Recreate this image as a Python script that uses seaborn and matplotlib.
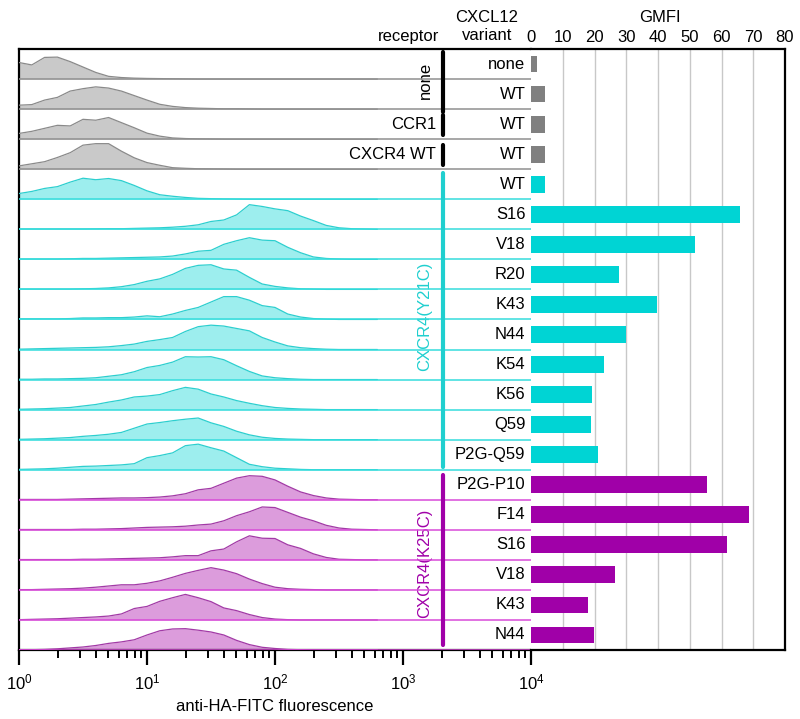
import numpy as np
import pandas as pd
import matplotlib
matplotlib.use("Agg")
import matplotlib.pyplot as plt
import matplotlib.transforms as mtransforms
from matplotlib.ticker import LogLocator, NullFormatter
import seaborn as sns

# ---- data ----
receptor_groups = ["none", "CCR1", "CXCR4 WT", "CXCR4(Y21C)", "CXCR4(K25C)"]
variants = ["none", "WT", "WT", "WT", "WT", "S16", "V18", "R20", "K43", "N44",
            "K54", "K56", "Q59", "P2G-Q59", "P2G-P10", "F14", "S16", "V18", "K43", "N44"]
row_group = ["ctrl"] * 4 + ["y21c"] * 10 + ["k25c"] * 6
gmfi = [1.9, 4.4, 4.3, 4.4, 4.3, 65.8, 51.7, 27.6, 39.8, 30.0,
        23.1, 19.3, 19.0, 21.2, 55.4, 68.6, 61.7, 26.5, 17.9, 19.9]

# histogram bins: log10(fluorescence)
log_bins = [0.0, 0.1, 0.2, 0.3, 0.4, 0.5, 0.6, 0.7, 0.8, 0.9, 1.0, 1.1, 1.2, 1.3, 1.4,
            1.5, 1.6, 1.7, 1.8, 1.9, 2.0, 2.1, 2.2, 2.3, 2.4, 2.5, 2.6, 2.7, 2.8]

# normalised counts per row (trailing bins are empty)
hist_ctrl = [
    [0.55, 0.47, 0.72, 0.73, 0.58, 0.40, 0.22, 0.09, 0.05, 0.03, 0.02, 0.015, 0.01, 0.005],
    [0.13, 0.15, 0.30, 0.39, 0.60, 0.68, 0.74, 0.70, 0.60, 0.45, 0.30, 0.16, 0.09, 0.05,
     0.03, 0.02, 0.01, 0.01, 0.005],
    [0.19, 0.26, 0.36, 0.46, 0.44, 0.66, 0.63, 0.72, 0.55, 0.38, 0.20, 0.10, 0.04, 0.02,
     0.01, 0.005],
    [0.11, 0.18, 0.25, 0.39, 0.55, 0.80, 0.85, 0.85, 0.60, 0.38, 0.22, 0.13, 0.05, 0.03,
     0.015, 0.01, 0.005],
]
hist_y21c = [
    [0.19, 0.26, 0.36, 0.42, 0.57, 0.70, 0.65, 0.69, 0.62, 0.46, 0.28, 0.15, 0.10, 0.06,
     0.03, 0.02, 0.01, 0.005],
    [0.01, 0.01, 0.01, 0.01, 0.01, 0.01, 0.015, 0.02, 0.02, 0.03, 0.04, 0.05, 0.07, 0.10,
     0.15, 0.26, 0.31, 0.48, 0.82, 0.76, 0.68, 0.62, 0.44, 0.29, 0.13, 0.05, 0.02, 0.01],
    [0.01, 0.01, 0.01, 0.01, 0.02, 0.03, 0.03, 0.04, 0.05, 0.06, 0.07, 0.08, 0.11, 0.18,
     0.27, 0.30, 0.50, 0.62, 0.72, 0.64, 0.62, 0.40, 0.22, 0.08, 0.03, 0.01],
    [0.01, 0.01, 0.01, 0.01, 0.01, 0.02, 0.03, 0.05, 0.09, 0.16, 0.27, 0.35, 0.50, 0.70,
     0.80, 0.82, 0.68, 0.64, 0.40, 0.18, 0.10, 0.05, 0.02, 0.01],
    [0.02, 0.02, 0.02, 0.02, 0.03, 0.05, 0.05, 0.06, 0.06, 0.08, 0.12, 0.09, 0.18, 0.30,
     0.40, 0.58, 0.76, 0.76, 0.64, 0.46, 0.40, 0.18, 0.08, 0.03, 0.01],
    [0.01, 0.02, 0.03, 0.04, 0.05, 0.06, 0.07, 0.09, 0.13, 0.18, 0.27, 0.33, 0.40, 0.60,
     0.76, 0.81, 0.78, 0.70, 0.62, 0.40, 0.25, 0.12, 0.06, 0.03, 0.01],
    [0.01, 0.01, 0.02, 0.02, 0.03, 0.04, 0.06, 0.11, 0.16, 0.26, 0.40, 0.47, 0.58, 0.76,
     0.75, 0.76, 0.66, 0.46, 0.27, 0.12, 0.06, 0.03, 0.01],
    [0.01, 0.02, 0.03, 0.05, 0.07, 0.12, 0.17, 0.25, 0.32, 0.42, 0.45, 0.50, 0.63, 0.74,
     0.68, 0.52, 0.42, 0.30, 0.21, 0.13, 0.07, 0.04, 0.02, 0.01],
    [0.01, 0.02, 0.03, 0.05, 0.07, 0.11, 0.14, 0.18, 0.24, 0.38, 0.52, 0.57, 0.63, 0.68,
     0.72, 0.56, 0.44, 0.28, 0.16, 0.08, 0.04, 0.02, 0.01],
    [0.01, 0.02, 0.03, 0.05, 0.08, 0.11, 0.12, 0.14, 0.16, 0.20, 0.40, 0.47, 0.56, 0.80,
     0.85, 0.73, 0.62, 0.40, 0.18, 0.10, 0.05, 0.03, 0.01],
]
hist_k25c = [
    [0.01, 0.01, 0.01, 0.01, 0.02, 0.03, 0.04, 0.05, 0.06, 0.06, 0.07, 0.09, 0.13, 0.20,
     0.33, 0.38, 0.55, 0.72, 0.80, 0.78, 0.66, 0.45, 0.26, 0.14, 0.06, 0.02, 0.01],
    [0.01, 0.01, 0.01, 0.01, 0.01, 0.02, 0.02, 0.03, 0.04, 0.06, 0.08, 0.09, 0.10, 0.12,
     0.16, 0.19, 0.30, 0.47, 0.60, 0.76, 0.74, 0.58, 0.42, 0.30, 0.15, 0.06, 0.02, 0.01],
    [0.01, 0.01, 0.01, 0.01, 0.01, 0.02, 0.02, 0.03, 0.04, 0.05, 0.06, 0.07, 0.10, 0.14,
     0.14, 0.30, 0.36, 0.60, 0.80, 0.72, 0.71, 0.50, 0.38, 0.20, 0.08, 0.02, 0.01],
    [0.01, 0.01, 0.02, 0.03, 0.04, 0.06, 0.09, 0.13, 0.17, 0.17, 0.22, 0.30, 0.42, 0.55,
     0.65, 0.74, 0.66, 0.54, 0.36, 0.21, 0.09, 0.04, 0.02, 0.01],
    [0.01, 0.02, 0.03, 0.04, 0.06, 0.08, 0.10, 0.13, 0.20, 0.38, 0.45, 0.62, 0.74, 0.85,
     0.74, 0.61, 0.40, 0.31, 0.18, 0.08, 0.03, 0.01],
    [0.01, 0.01, 0.02, 0.04, 0.07, 0.10, 0.15, 0.22, 0.27, 0.34, 0.50, 0.64, 0.70, 0.71,
     0.66, 0.60, 0.50, 0.32, 0.18, 0.09, 0.05, 0.02, 0.01],
]

# ---- styling ----
fill_c = {"ctrl": "#c9c9c9", "y21c": "#9deeee", "k25c": "#dc9cdc"}
edge_c = {"ctrl": "#8a8a8a", "y21c": "#2ccfcf", "k25c": "#a23aa6"}
sep_c = {"ctrl": "#8f8f8f", "y21c": "#35dcdc", "k25c": "#d84ad8"}
bar_c = {"ctrl": "#808080", "y21c": "#00d4d4", "k25c": "#a000a8"}

sns.set_style("white")
plt.rcParams["font.family"] = ["Liberation Sans", "DejaVu Sans"]
plt.rcParams["mathtext.default"] = "regular"
plt.rcParams["text.color"] = "black"
plt.rcParams["axes.labelcolor"] = "black"
plt.rcParams["xtick.color"] = "black"
plt.rcParams["xtick.labelcolor"] = "black"

W, H = 800, 719
fig = plt.figure(figsize=(W / 100, H / 100), dpi=100)


def px_rect(x0, y0, x1, y1):
    return [x0 / W, 1 - y1 / H, (x1 - x0) / W, (y1 - y0) / H]


ax_h = fig.add_axes(px_rect(19, 49, 531, 650))
ax_b = fig.add_axes(px_rect(531, 49, 785, 650))

# ---- histograms (left) ----
x_vals = 10 ** np.array(log_bins)
all_hist = hist_ctrl + hist_y21c + hist_k25c
for i, h in enumerate(all_hist):
    g = row_group[i]
    h = np.pad(np.array(h), (0, len(log_bins) - len(h)))
    base = i + 0.5
    ax_h.fill_between(x_vals, base, base - h, color=fill_c[g], lw=0, zorder=2)
    ax_h.plot(x_vals, base - h, color=edge_c[g], lw=0.9, zorder=3)
    ax_h.axhline(base, color=sep_c[g], lw=1.1, zorder=4)

ax_h.set_xscale("log")
ax_h.set_xlim(1, 1e4)
ax_h.set_ylim(19.5, -0.5)
ax_h.set_yticks([])
ax_h.xaxis.set_major_locator(LogLocator(base=10, numticks=10))
ax_h.xaxis.set_minor_locator(LogLocator(base=10, subs=np.arange(2, 10), numticks=20))
ax_h.xaxis.set_minor_formatter(NullFormatter())
ax_h.tick_params(axis="x", which="both", bottom=True, direction="out")
ax_h.tick_params(axis="x", which="major", length=11, width=1.6, labelsize=12, pad=5,
                 color="black")
ax_h.tick_params(axis="x", which="minor", length=6, width=1.4, color="black")
ax_h.set_xlabel("anti-HA-FITC fluorescence", fontsize=12, labelpad=5)
for side in ["left", "top", "bottom"]:
    ax_h.spines[side].set_linewidth(1.6)
    ax_h.spines[side].set_color("black")
ax_h.spines["right"].set_visible(False)

trans = mtransforms.blended_transform_factory(ax_h.transAxes, ax_h.transData)

# variant labels
for i, v in enumerate(variants):
    ax_h.text(0.989, i, v, transform=trans, ha="right", va="center", fontsize=12, zorder=5)

# receptor group bars and labels
xb = (443 - 19) / 512
group_spans = [(-0.4, 1.58, "black"), (1.7, 2.35, "black"), (2.68, 3.35, "black"),
               (3.62, 13.4, "#1fcfcf"), (13.68, 19.35, "#a000a8")]
for y0, y1, c in group_spans:
    ax_h.plot([xb, xb], [y0, y1], transform=trans, color=c, lw=3.0,
              solid_capstyle="round", zorder=6)

xr = (425 - 19) / 512
ax_h.text(xr, 0.55, receptor_groups[0], transform=trans, rotation=90, ha="center",
          va="center", fontsize=12)
ax_h.text((436 - 19) / 512, 2, receptor_groups[1], transform=trans, ha="right",
          va="center", fontsize=12)
ax_h.text((436 - 19) / 512, 3, receptor_groups[2], transform=trans, ha="right",
          va="center", fontsize=12)
ax_h.text(xr, 8.4, receptor_groups[3], transform=trans, rotation=90, ha="center",
          va="center", fontsize=12, color="#1fcfcf")
ax_h.text(xr, 16.6, receptor_groups[4], transform=trans, rotation=90, ha="center",
          va="center", fontsize=12, color="#a000a8")

# ---- GMFI bars (right) ----
df = pd.DataFrame({"row": [str(i) for i in range(len(gmfi))], "gmfi": gmfi})
palette = {str(i): bar_c[g] for i, g in enumerate(row_group)}
for v in range(10, 80, 10):
    ax_b.axvline(v, color="#c8c8c8", lw=1.0, zorder=0)
sns.barplot(data=df, x="gmfi", y="row", hue="row", palette=palette, legend=False,
            width=0.56, saturation=1, linewidth=0, ax=ax_b, zorder=3)
ax_b.set_ylim(19.5, -0.5)
ax_b.set_xlim(0, 80)
ax_b.set_yticks([])
ax_b.set_ylabel("")
ax_b.set_xlabel("")
ax_b.xaxis.tick_top()
ax_b.set_xticks(range(0, 81, 10))
ax_b.tick_params(axis="x", length=0, pad=3, labelsize=12)
for side in ["right", "top", "bottom"]:
    ax_b.spines[side].set_linewidth(1.6)
    ax_b.spines[side].set_color("black")
ax_b.spines["left"].set_visible(False)

# ---- column headers ----
fig.text(409 / W, 1 - 36 / H, "receptor", ha="center", va="center", fontsize=12)
fig.text(487 / W, 1 - 18 / H, "CXCL12", ha="center", va="center", fontsize=12)
fig.text(487 / W, 1 - 36 / H, "variant", ha="center", va="center", fontsize=12)
fig.text(660 / W, 1 - 18 / H, "GMFI", ha="center", va="center", fontsize=12)

fig.savefig("out.png", dpi=100)
